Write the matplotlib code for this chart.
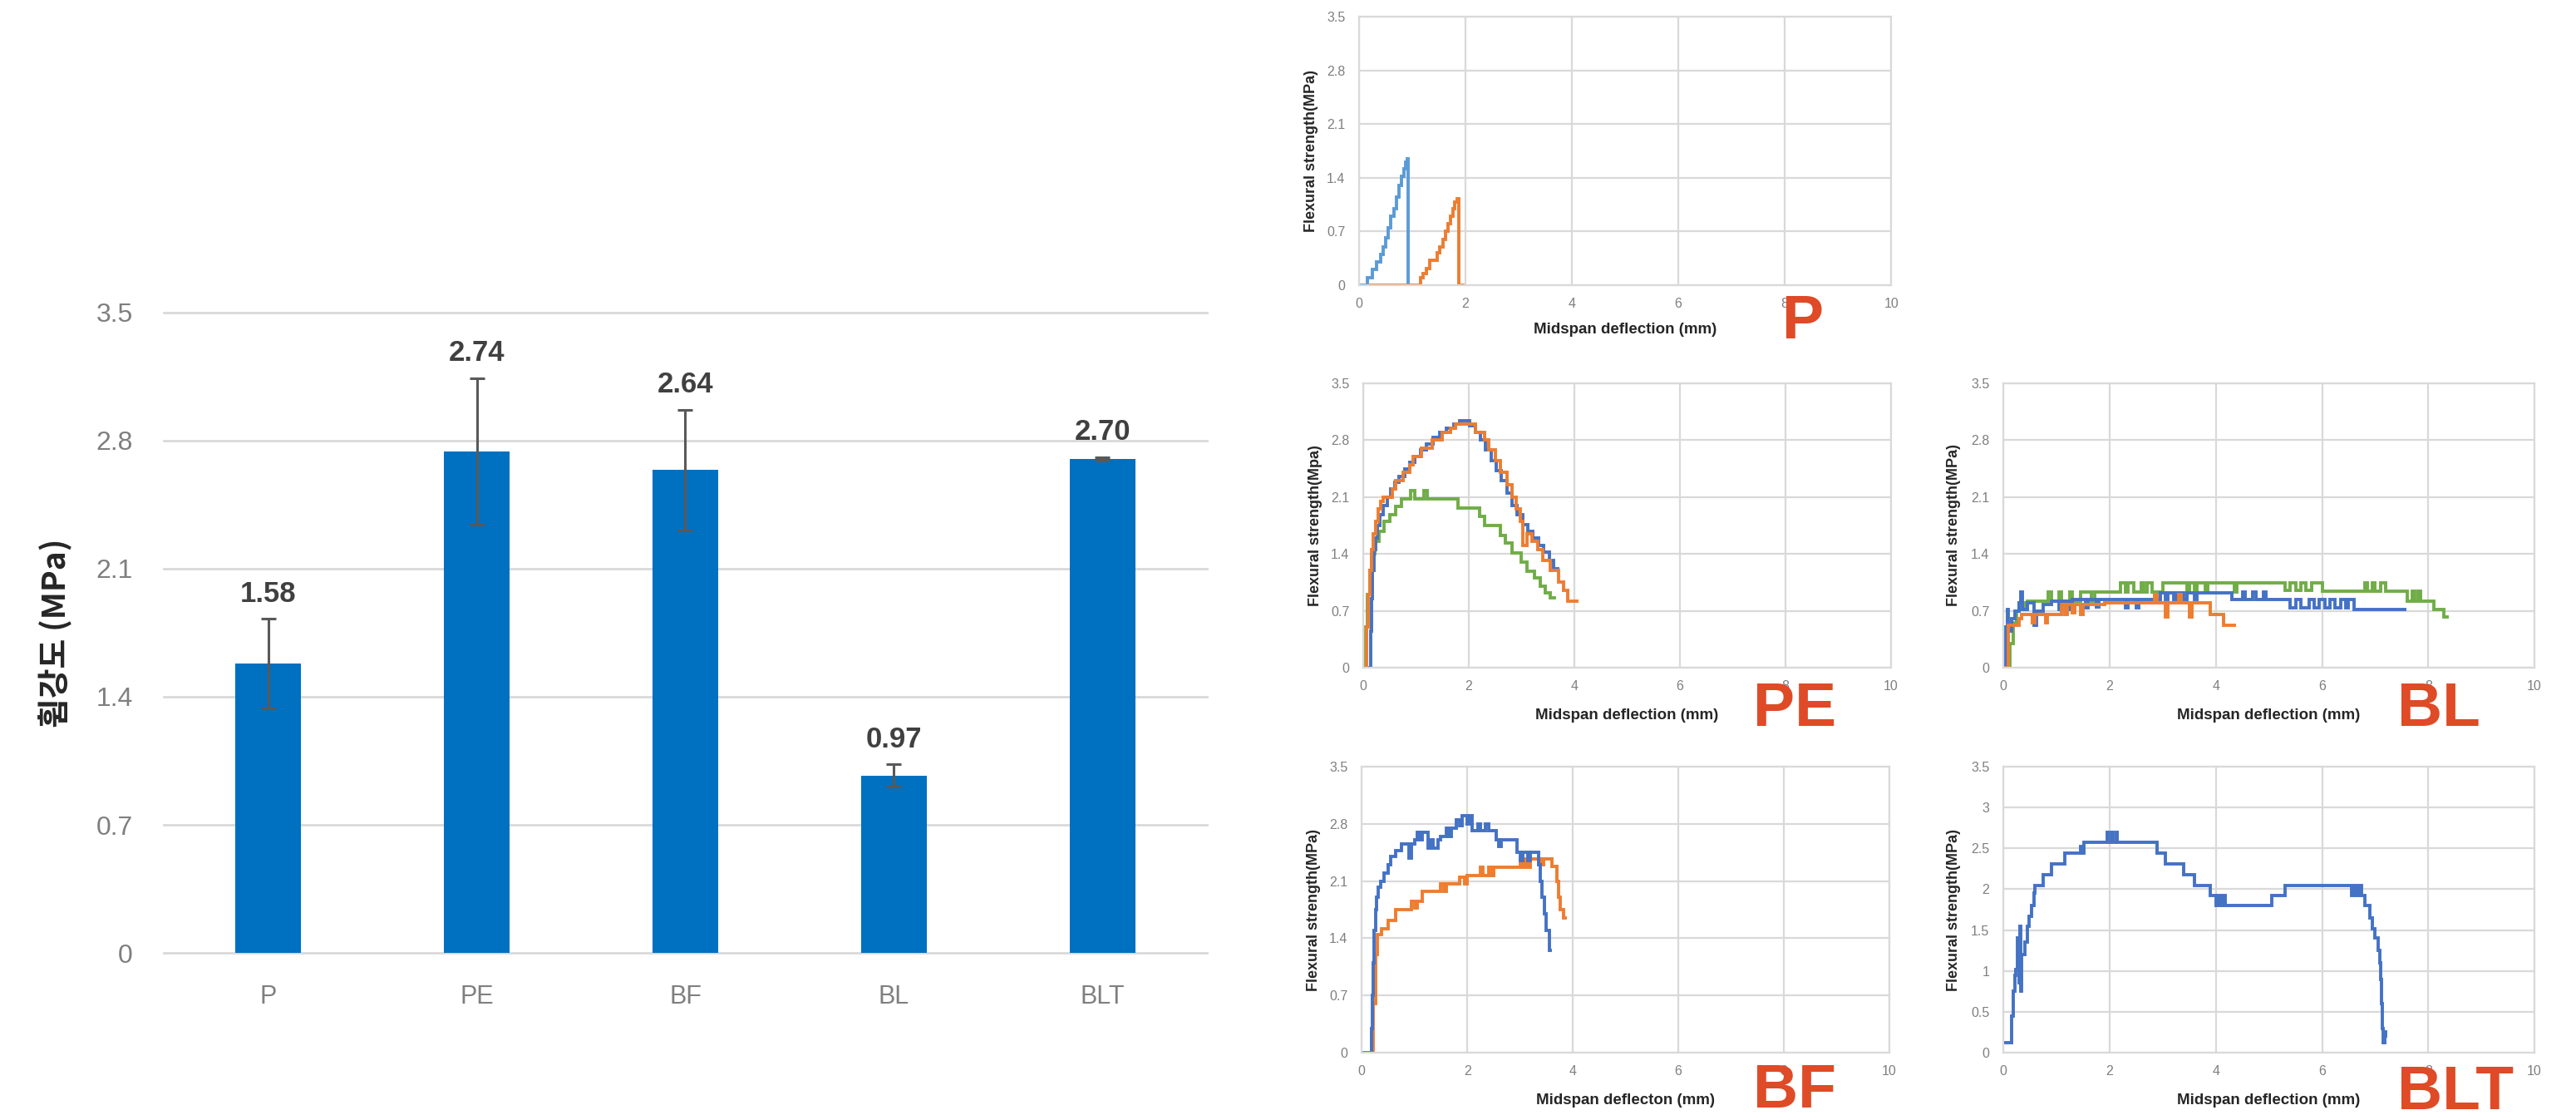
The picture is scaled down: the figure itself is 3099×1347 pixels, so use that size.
import numpy as np
import matplotlib
matplotlib.use("Agg")
import matplotlib.pyplot as plt

plt.rcParams['font.family'] = ['Liberation Sans', 'Noto Sans CJK KR', 'DejaVu Sans']

# bar chart (mean flexural strength)
categories = ["P", "PE", "BF", "BL", "BLT"]
strength = [1.58, 2.74, 2.64, 0.97, 2.70]
strengthErr = [0.245, 0.40, 0.33, 0.06, 0.01]
strengthTicks = [0, 0.7, 1.4, 2.1, 2.8, 3.5]
strengthTickLabels = ["0", "0.7", "1.4", "2.1", "2.8", "3.5"]
bltTicks = [0, 0.5, 1, 1.5, 2, 2.5, 3, 3.5]
bltTickLabels = ["0", "0.5", "1", "1.5", "2", "2.5", "3", "3.5"]
deflectionTicks = [0, 2, 4, 6, 8, 10]

# load-deflection curves, (deflection mm, strength MPa) step points
pBlue = [(0, 0), (0.15, 0.1), (0.25, 0.2), (0.33, 0.3), (0.4, 0.4), (0.45, 0.5), (0.5, 0.62),
         (0.55, 0.75), (0.6, 0.9), (0.65, 1.0), (0.7, 1.15), (0.75, 1.3), (0.8, 1.42), (0.85, 1.52),
         (0.88, 1.6), (0.9, 1.65), (0.92, 0), (0.93, 0)]
pOrange = [(0.22, 0), (1.15, 0.1), (1.2, 0.15), (1.27, 0.22), (1.33, 0.32), (1.47, 0.42), (1.52, 0.5),
           (1.57, 0.6), (1.62, 0.7), (1.67, 0.8), (1.72, 0.9), (1.77, 1.0), (1.8, 1.08), (1.84, 1.13),
           (1.87, 0), (1.95, 0)]

peBlue = [(0.1, 0), (0.14, 0.45), (0.16, 0.85), (0.18, 1.2), (0.2, 1.45), (0.23, 1.6), (0.27, 1.75),
          (0.32, 1.88), (0.38, 2.0), (0.45, 2.1), (0.52, 2.2), (0.6, 2.28), (0.68, 2.35), (0.78, 2.45),
          (0.88, 2.53), (0.98, 2.6), (1.08, 2.68), (1.2, 2.75), (1.32, 2.83), (1.45, 2.9), (1.58, 2.95),
          (1.72, 3.0), (1.82, 3.04), (2.02, 2.98), (2.12, 2.9), (2.22, 2.8), (2.32, 2.68), (2.42, 2.55),
          (2.52, 2.42), (2.62, 2.3), (2.72, 2.15), (2.82, 2.0), (2.92, 1.88), (3.02, 1.76), (3.12, 1.68),
          (3.22, 1.6), (3.32, 1.5), (3.42, 1.42), (3.52, 1.32), (3.6, 1.22), (3.68, 1.22)]
peOrange = [(0.04, 0), (0.06, 0.5), (0.09, 0.9), (0.12, 1.2), (0.15, 1.45), (0.19, 1.65), (0.23, 1.8),
            (0.28, 1.95), (0.33, 2.05), (0.38, 2.1), (0.55, 2.2), (0.62, 2.3), (0.75, 2.4), (0.88, 2.5),
            (0.95, 2.6), (1.1, 2.7), (1.3, 2.8), (1.5, 2.9), (1.65, 2.95), (1.75, 3.0), (2.12, 2.9),
            (2.3, 2.8), (2.38, 2.68), (2.5, 2.55), (2.6, 2.4), (2.72, 2.25), (2.82, 2.1), (2.9, 1.95),
            (2.97, 1.8), (3.02, 1.5), (3.1, 1.65), (3.2, 1.55), (3.3, 1.45), (3.4, 1.32), (3.55, 1.2),
            (3.7, 1.05), (3.8, 0.95), (3.88, 0.82), (4.05, 0.82)]
peGreen = [(0.02, 0), (0.05, 0.5), (0.08, 0.9), (0.12, 1.2), (0.16, 1.4), (0.22, 1.55), (0.3, 1.68),
           (0.4, 1.8), (0.5, 1.88), (0.62, 1.98), (0.72, 2.08), (0.9, 2.18), (0.97, 2.08), (1.15, 2.18),
           (1.22, 2.08), (1.8, 1.96), (2.2, 1.86), (2.3, 1.75), (2.6, 1.63), (2.7, 1.53), (2.82, 1.41),
           (3.0, 1.3), (3.1, 1.19), (3.25, 1.1), (3.35, 1.0), (3.45, 0.92), (3.55, 0.86), (3.62, 0.86)]

blBlue = [(0, 0), (0.05, 0.5), (0.08, 0.72), (0.1, 0.45), (0.15, 0.6), (0.22, 0.7), (0.3, 0.8),
          (0.33, 0.93), (0.36, 0.72), (0.45, 0.8), (0.58, 0.52), (0.62, 0.7), (0.75, 0.78), (0.9, 0.82),
          (1.05, 0.72), (1.1, 0.82), (1.25, 0.72), (1.3, 0.84), (1.55, 0.74), (1.6, 0.84), (1.75, 0.75),
          (1.8, 0.84), (2.3, 0.74), (2.35, 0.84), (2.5, 0.74), (2.55, 0.84), (2.95, 0.92), (3.05, 0.84),
          (3.1, 0.92), (3.2, 0.84), (3.25, 0.92), (3.4, 0.84), (3.45, 0.92), (3.6, 0.84), (3.65, 0.92),
          (4.3, 0.84), (4.5, 0.93), (4.55, 0.84), (4.7, 0.93), (4.75, 0.84), (4.9, 0.93), (4.95, 0.84),
          (5.4, 0.74), (5.5, 0.84), (5.6, 0.74), (5.75, 0.84), (5.85, 0.74), (5.95, 0.84), (6.05, 0.74),
          (6.15, 0.84), (6.25, 0.74), (6.35, 0.84), (6.45, 0.74), (6.5, 0.84), (6.6, 0.72), (7.55, 0.72)]
blOrange = [(0.05, 0), (0.1, 0.52), (0.3, 0.6), (0.35, 0.65), (0.55, 0.55), (0.6, 0.65), (0.8, 0.55),
            (0.83, 0.65), (1.1, 0.78), (1.15, 0.65), (1.2, 0.78), (1.3, 0.68), (1.35, 0.78), (1.45, 0.65),
            (1.5, 0.78), (1.9, 0.8), (2.85, 0.9), (2.9, 0.8), (3.05, 0.62), (3.1, 0.8), (3.3, 0.9),
            (3.35, 0.8), (3.5, 0.62), (3.55, 0.8), (3.9, 0.65), (4.15, 0.52), (4.35, 0.52)]
blGreen = [(0, 0), (0.12, 0.3), (0.18, 0.55), (0.25, 0.7), (0.3, 0.8), (0.4, 0.72), (0.45, 0.82),
           (0.85, 0.93), (0.9, 0.82), (1.05, 0.93), (1.1, 0.82), (1.25, 0.93), (1.3, 0.82), (1.45, 0.93),
           (1.65, 0.82), (1.72, 0.93), (2.2, 1.04), (2.3, 0.93), (2.35, 1.04), (2.45, 0.93), (2.6, 1.04),
           (2.65, 0.93), (2.7, 1.04), (2.8, 0.93), (3.0, 1.04), (3.45, 0.93), (3.5, 1.04), (3.6, 0.93),
           (3.65, 1.04), (3.8, 0.93), (3.85, 1.04), (4.35, 0.93), (4.4, 1.04), (5.3, 0.95), (5.4, 1.04),
           (5.5, 0.95), (5.6, 1.04), (5.7, 0.95), (5.8, 1.04), (6.0, 0.94), (6.8, 1.04), (6.85, 0.94),
           (6.95, 1.04), (7.0, 0.94), (7.1, 1.04), (7.2, 0.94), (7.6, 0.82), (7.7, 0.94), (7.75, 0.82),
           (7.8, 0.94), (7.85, 0.82), (8.1, 0.72), (8.3, 0.62), (8.35, 0.62)]

bfBlue = [(0, 0), (0.18, 0.3), (0.2, 0.7), (0.22, 1.1), (0.24, 1.5), (0.26, 1.75), (0.28, 1.9),
          (0.32, 2.02), (0.36, 2.1), (0.42, 2.2), (0.5, 2.3), (0.55, 2.4), (0.65, 2.47), (0.75, 2.55),
          (0.9, 2.38), (0.95, 2.55), (1.0, 2.6), (1.05, 2.7), (1.1, 2.6), (1.15, 2.7), (1.25, 2.5),
          (1.3, 2.6), (1.35, 2.5), (1.45, 2.6), (1.5, 2.65), (1.6, 2.75), (1.65, 2.65), (1.7, 2.75),
          (1.8, 2.85), (1.85, 2.78), (1.9, 2.9), (2.0, 2.8), (2.05, 2.9), (2.1, 2.72), (2.2, 2.8),
          (2.25, 2.72), (2.35, 2.8), (2.4, 2.72), (2.55, 2.6), (2.6, 2.52), (2.65, 2.6), (2.95, 2.45),
          (3.0, 2.35), (3.05, 2.45), (3.15, 2.35), (3.2, 2.45), (3.35, 2.3), (3.38, 2.1), (3.42, 1.9),
          (3.46, 1.7), (3.5, 1.5), (3.55, 1.25), (3.58, 1.25)]
bfOrange = [(0.18, 0), (0.22, 0.6), (0.26, 1.2), (0.3, 1.45), (0.38, 1.52), (0.5, 1.62), (0.65, 1.75),
            (0.95, 1.85), (1.0, 1.77), (1.05, 1.85), (1.15, 1.97), (1.5, 2.07), (1.55, 1.97), (1.6, 2.07),
            (1.85, 2.15), (1.95, 2.07), (2.0, 2.17), (2.25, 2.27), (2.3, 2.17), (2.4, 2.27), (2.45, 2.17),
            (2.5, 2.27), (3.0, 2.37), (3.05, 2.27), (3.1, 2.37), (3.15, 2.27), (3.2, 2.37), (3.4, 2.3),
            (3.45, 2.37), (3.6, 2.28), (3.7, 2.1), (3.73, 1.9), (3.76, 1.75), (3.82, 1.65), (3.85, 1.65)]

bltBlue = [(0, 0.12), (0.15, 0.45), (0.18, 0.75), (0.21, 0.95), (0.24, 1.02), (0.27, 1.4), (0.29, 0.85),
           (0.31, 1.55), (0.33, 0.75), (0.35, 1.2), (0.4, 1.35), (0.45, 1.55), (0.48, 1.67), (0.53, 1.8),
           (0.57, 1.95), (0.6, 2.05), (0.75, 2.18), (0.9, 2.31), (1.15, 2.44), (1.45, 2.52), (1.5, 2.44),
           (1.52, 2.57), (1.95, 2.7), (1.97, 2.57), (2.03, 2.7), (2.06, 2.57), (2.12, 2.7), (2.15, 2.57),
           (2.9, 2.44), (3.05, 2.31), (3.4, 2.18), (3.6, 2.05), (3.9, 1.92), (4.0, 1.8), (4.05, 1.92),
           (4.1, 1.8), (4.15, 1.92), (4.18, 1.8), (5.05, 1.92), (5.3, 2.05), (6.55, 1.92), (6.6, 2.05),
           (6.65, 1.92), (6.7, 2.05), (6.75, 1.92), (6.8, 1.8), (6.9, 1.65), (6.95, 1.52), (7.0, 1.4),
           (7.05, 1.25), (7.08, 1.1), (7.1, 0.9), (7.12, 0.6), (7.14, 0.3), (7.15, 0.12), (7.18, 0.2),
           (7.2, 0.25)]

barBlue = "#0070C0"
excelBlue = "#4472C4"
lightBlue = "#5B9BD5"
excelOrange = "#ED7D31"
excelGreen = "#70AD47"
letterRed = "#DF4A27"
gridGrey = "#D9D9D9"
tickGrey = "#7F7F7F"
darkText = "#262626"


def stylePanel(axis, yTicks, yTickLabels, yLabel, xLabel, yLabelX):
    axis.set_xlim(0, 10)
    axis.set_ylim(0, 3.5)
    axis.set_xticks(deflectionTicks)
    axis.set_xticklabels([str(t) for t in deflectionTicks])
    axis.set_yticks(yTicks)
    axis.set_yticklabels(yTickLabels)
    axis.grid(True, color=gridGrey, linewidth=1.6)
    axis.set_axisbelow(True)
    for spine in axis.spines.values():
        spine.set_color(gridGrey)
        spine.set_linewidth(1.6)
    axis.tick_params(axis="both", length=0, labelsize=11.5, labelcolor=tickGrey)
    axis.tick_params(axis="y", pad=12)
    axis.tick_params(axis="x", pad=11)
    axis.set_ylabel(yLabel, fontsize=13, fontweight="bold", color=darkText, va="center")
    axis.yaxis.set_label_coords(yLabelX, 0.5)
    axis.set_xlabel(xLabel, fontsize=13.5, fontweight="bold", color=darkText, va="center")
    axis.xaxis.set_label_coords(0.5, -0.167)


def plotCurve(axis, points, color):
    xs = [p[0] for p in points]
    ys = [p[1] for p in points]
    axis.plot(xs, ys, color=color, linewidth=2.8, drawstyle="steps-post", solid_joinstyle="miter")


figure = plt.figure(figsize=(30.99, 13.47), dpi=100)

# left: bar chart
barAxis = figure.add_axes([0.0636, 0.1492, 0.4049, 0.5717])
positions = np.arange(len(categories))
barAxis.bar(positions, strength, width=0.314, color=barBlue, zorder=2)
barAxis.errorbar(positions, strength, yerr=strengthErr, fmt="none", ecolor="#595959",
                 elinewidth=2.2, capsize=6.5, capthick=2.2, zorder=3)
for i, (value, err) in enumerate(zip(strength, strengthErr)):
    barAxis.annotate(f"{value:.2f}", xy=(positions[i], value + err), xytext=(0, 15),
                     textcoords="offset points", ha="center", va="baseline",
                     fontsize=25, fontweight="bold", color="#404040")
barAxis.set_xlim(-0.5, len(categories) - 0.5)
barAxis.set_ylim(0, 3.5)
barAxis.set_yticks(strengthTicks)
barAxis.set_yticklabels(strengthTickLabels)
barAxis.set_xticks(positions)
barAxis.set_xticklabels(categories)
barAxis.yaxis.grid(True, color=gridGrey, linewidth=2)
barAxis.set_axisbelow(True)
for line in barAxis.get_ygridlines():
    line.set_clip_on(False)
for spine in barAxis.spines.values():
    spine.set_visible(False)
barAxis.tick_params(axis="y", length=0, pad=27, labelsize=23, labelcolor=tickGrey)
barAxis.tick_params(axis="x", length=0, pad=27, labelsize=22, labelcolor=tickGrey)
barAxis.set_ylabel("휨강도 (MPa)", fontsize=28, fontweight="bold", color=darkText,
                   family=["Noto Sans CJK KR", "DejaVu Sans"], va="center")
barAxis.yaxis.set_label_coords(-0.104, 0.5)

# right: load-deflection panels
axP = figure.add_axes([0.5276, 0.7454, 0.2066, 0.2397])
axPE = figure.add_axes([0.5292, 0.4039, 0.2049, 0.2539])
axBL = figure.add_axes([0.7777, 0.4039, 0.2062, 0.2539])
axBF = figure.add_axes([0.5286, 0.0601, 0.2049, 0.2554])
axBLT = figure.add_axes([0.7777, 0.0601, 0.2062, 0.2554])

stylePanel(axP, strengthTicks, strengthTickLabels, "Flexural strength(MPa)", "Midspan deflection (mm)", -0.09)
stylePanel(axPE, strengthTicks, strengthTickLabels, "Flexural strength(Mpa)", "Midspan deflection (mm)", -0.09)
stylePanel(axBL, strengthTicks, strengthTickLabels, "Flexural strength(MPa)", "Midspan deflection (mm)", -0.094)
stylePanel(axBF, strengthTicks, strengthTickLabels, "Flexural strength(MPa)", "Midspan deflecton (mm)", -0.09)
stylePanel(axBLT, bltTicks, bltTickLabels, "Flexural strength(MPa)", "Midspan deflection (mm)", -0.094)

plotCurve(axP, pBlue, lightBlue)
plotCurve(axP, pOrange, excelOrange)
plotCurve(axPE, peGreen, excelGreen)
plotCurve(axPE, peBlue, excelBlue)
plotCurve(axPE, peOrange, excelOrange)
plotCurve(axBL, blGreen, excelGreen)
plotCurve(axBL, blBlue, excelBlue)
plotCurve(axBL, blOrange, excelOrange)
plotCurve(axBF, bfOrange, excelOrange)
plotCurve(axBF, bfBlue, excelBlue)
plotCurve(axBLT, bltBlue, excelBlue)

letterStyle = dict(fontsize=54, fontweight="bold", color=letterRed, ha="left", va="baseline")
figure.text(0.6918, 0.6978, "P", **letterStyle)
figure.text(0.6805, 0.3519, "PE", **letterStyle)
figure.text(0.9306, 0.3519, "BL", **letterStyle)
figure.text(0.6805, 0.0111, "BF", **letterStyle)
figure.text(0.9306, 0.0097, "BLT", **letterStyle)

figure.savefig("out.png", dpi=100, facecolor="white")
